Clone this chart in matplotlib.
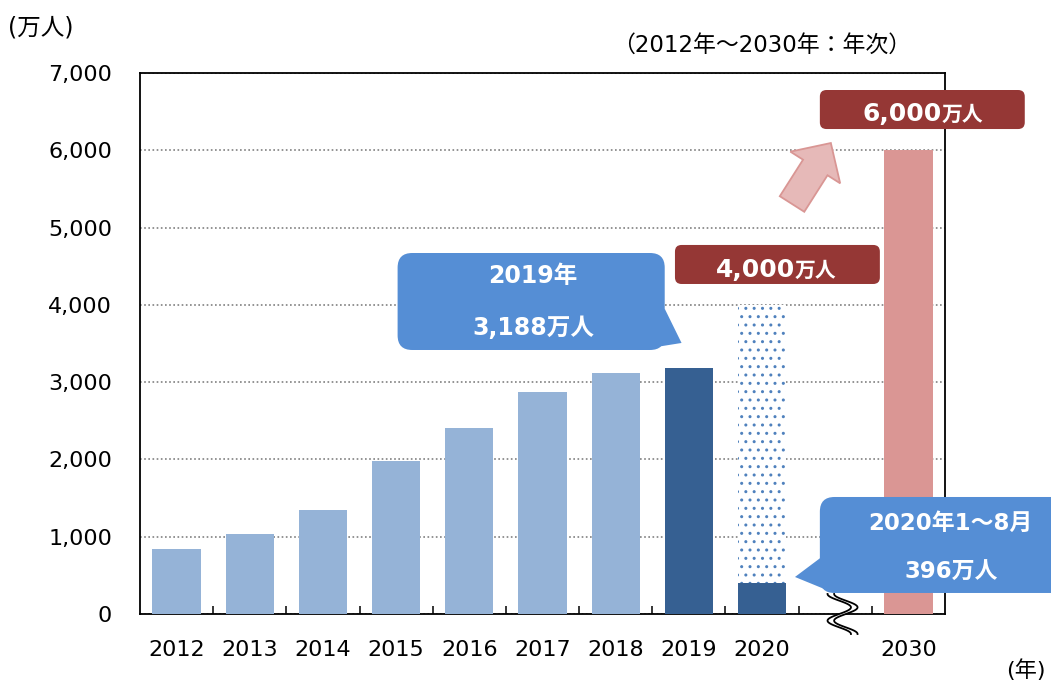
import numpy as np
import matplotlib.pyplot as plt
from matplotlib.patches import FancyBboxPatch, Polygon
from matplotlib.transforms import blended_transform_factory

plt.rcParams['font.family'] = ['DejaVu Sans', 'Noto Sans CJK JP']

# 訪日外国人旅行者数（万人）
YEARS = ["2012", "2013", "2014", "2015", "2016", "2017", "2018", "2019", "2020", "", "2030"]
VISITORS = [836, 1036, 1341, 1974, 2404, 2869, 3119, 3188, 396, np.nan, 6000]
TARGET_2020 = 4000
TARGET_2030 = 6000
Y_TICKS = [0, 1000, 2000, 3000, 4000, 5000, 6000, 7000]

LIGHT = "#95B3D7"
DARK = "#366092"
PINK = "#DA9694"
CALLOUT_BLUE = "#558ED5"
BOX_RED = "#953735"

fig = plt.figure(figsize=(10.51, 6.83), dpi=100)
ax = fig.add_axes([140 / 1051, 1 - 614 / 683, 805 / 1051, 541 / 683])

x = np.arange(len(YEARS))
colors = [LIGHT] * 7 + [DARK, DARK, LIGHT, PINK]

# 2020年目標（点線枠）
ax.bar(8, TARGET_2020, width=0.66, facecolor="white", edgecolor="#4F81BD",
       hatch="..", linewidth=0, zorder=2)
ax.bar(x, VISITORS, width=0.66, color=colors, zorder=3)

ax.set_xlim(-0.5, 10.5)
ax.set_ylim(0, 7000)
ax.set_yticks(Y_TICKS)
ax.set_yticklabels([f"{v:,}" for v in Y_TICKS])
ax.set_xticks(x)
ax.set_xticklabels(YEARS)
ax.set_xticks(np.arange(0.5, 10.5, 1.0), minor=True)
ax.tick_params(axis="x", which="major", length=0, pad=19, labelsize=16)
ax.tick_params(axis="x", which="minor", direction="in", length=6, width=1.1)
ax.tick_params(axis="y", length=0, pad=20, labelsize=16)

ax.set_axisbelow(True)
ax.yaxis.grid(True, color="#808080", linestyle=(0, (1, 1.5)), linewidth=1.2)
for s in ax.spines.values():
    s.set_linewidth(1.3)

# 画素比（角丸の縦横比補正）
p0 = ax.transData.transform((0, 0))
p1 = ax.transData.transform((1, 1))
aspect = (p1[0] - p0[0]) / (p1[1] - p0[1])


def rbox(x0, y0, x1, y1, color, r):
    b = FancyBboxPatch((x0, y0), x1 - x0, y1 - y0,
                       boxstyle=f"round,pad=0,rounding_size={r}",
                       mutation_aspect=aspect, facecolor=color, edgecolor="none",
                       clip_on=False, zorder=7)
    ax.add_patch(b)


def tail(pts, color):
    ax.add_patch(Polygon(pts, closed=True, facecolor=color, edgecolor="none",
                         clip_on=False, zorder=7))


def block_arrow(start, end, shaft_px, head_w_px, head_l_px):
    # 太い矢印（画素単位で形を作ってからデータ座標へ戻す）
    s = ax.transData.transform(start)
    e = ax.transData.transform(end)
    d = e - s
    L = np.hypot(*d)
    u = d / L
    n = np.array([-u[1], u[0]])
    b = e - u * head_l_px
    pts = [s + n * shaft_px / 2, b + n * shaft_px / 2, b + n * head_w_px / 2, e,
           b - n * head_w_px / 2, b - n * shaft_px / 2, s - n * shaft_px / 2]
    pts = ax.transData.inverted().transform(np.array(pts))
    ax.add_patch(Polygon(pts, closed=True, facecolor="#E6B9B8", edgecolor="#D99694",
                         linewidth=1.3, clip_on=False, zorder=6))


# 2019年 吹き出し
rbox(3.02, 3416, 6.67, 4671, CALLOUT_BLUE, 0.2)
tail([(6.30, 3416), (6.67, 3950), (6.90, 3507)], CALLOUT_BLUE)
ax.text(4.87, 4373, "2019年", ha="center", va="center", color="white",
        fontsize=17, fontweight="bold", zorder=8)
ax.text(4.87, 3701, "3,188万人", ha="center", va="center", color="white",
        fontsize=17, fontweight="bold", zorder=8)

# 2020年 吹き出し
rbox(8.79, 272, 12.3, 1514, CALLOUT_BLUE, 0.2)
tail([(8.85, 763), (8.45, 479), (8.95, 285)], CALLOUT_BLUE)
ax.text(10.58, 1177, "2020年1～8月", ha="center", va="center", color="white",
        fontsize=16.5, fontweight="bold", zorder=8)
ax.text(10.58, 543, "396万人", ha="center", va="center", color="white",
        fontsize=16.5, fontweight="bold", zorder=8)

# 目標ラベル
rbox(6.81, 4270, 9.61, 4775, BOX_RED, 0.09)
ax.text(8.45, 4361, f"{TARGET_2020:,}", ha="right", va="baseline", color="white",
        fontsize=18, fontweight="bold", zorder=8)
ax.text(8.45, 4361, "万人", ha="left", va="baseline", color="white",
        fontsize=15, fontweight="bold", zorder=8)

rbox(8.79, 6275, 11.59, 6780, BOX_RED, 0.09)
ax.text(10.46, 6379, f"{TARGET_2030:,}", ha="right", va="baseline", color="white",
        fontsize=18, fontweight="bold", zorder=8)
ax.text(10.46, 6379, "万人", ha="left", va="baseline", color="white",
        fontsize=15, fontweight="bold", zorder=8)

# 矢印
block_arrow((8.41, 5305), (8.94, 6094), 29, 59, 29)

# 軸の省略記号
bt = blended_transform_factory(ax.transData, ax.transAxes)
t = np.linspace(0, 1, 120)
yy = 0.037 - 0.074 * t
xx = 9.1 - 0.16 * np.cos(3 * np.pi * t)
gap = 0.045
verts = np.vstack([np.column_stack([xx - gap, yy]), np.column_stack([xx + gap, yy])[::-1]])
ax.add_patch(Polygon(verts, closed=True, facecolor="white", edgecolor="none",
                     transform=bt, clip_on=False, zorder=6))
ax.plot(xx - gap, yy, color="black", lw=1.3, transform=bt, clip_on=False, zorder=6)
ax.plot(xx + gap, yy, color="black", lw=1.3, transform=bt, clip_on=False, zorder=6)

fig.text(8 / 1051, 1 - 27 / 683, "(万人)", ha="left", va="center", fontsize=17)
fig.text(762 / 1051, 1 - 45 / 683, "（2012年～2030年：年次）", ha="center", va="center",
         fontsize=16.5)
fig.text(1046 / 1051, 1 - 670 / 683, "(年)", ha="right", va="center", fontsize=16)

fig.savefig("out.png", dpi=100)
